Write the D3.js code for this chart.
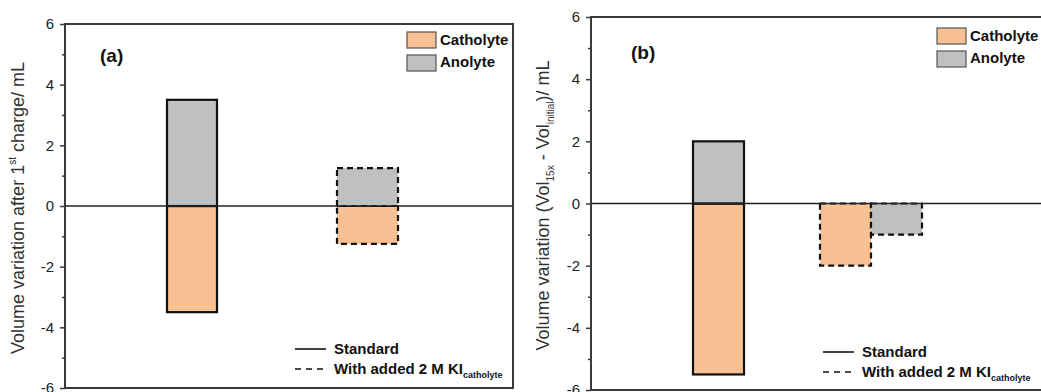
<!DOCTYPE html>
<html>
<head>
<meta charset="utf-8">
<script src="https://cdn.jsdelivr.net/npm/d3@7"></script>
<style>
  body { margin: 0; background: #fff; }
  svg text { font-family: "Liberation Sans", Arial, sans-serif; }
</style>
</head>
<body>
<svg id="chart" width="1041" height="392"></svg>
<script>
// data
var categories = ["Standard", "With added 2 M KI"];
var catholyteA = [-3.5, -1.25];
var anolyteA = [3.5, 1.25];
var catholyteB = [-5.5, -2];
var anolyteB = [2, -1];
var yTicks = [-6, -4, -2, 0, 2, 4, 6];

var colCath = "#f8c194", colAno = "#c0c0c0";
var svg = d3.select("#chart");

var panels = [
  { label: "(a)", left: 65, right: 513, top: 24, bottom: 388, cath: catholyteA, ano: anolyteA,
    centers: [192, 367.5], widths: [50, 61], side: [false, false],
    labelX: 100, labelY: 62, titleX: 24,
    legX: 407, legY: 32, lineLegX: 295, lineLegY: 349 },
  { label: "(b)", left: 591, right: 1060, top: 17, bottom: 390, cath: catholyteB, ano: anolyteB,
    centers: [718.5, 871], widths: [51, 51], side: [false, true],
    labelX: 631, labelY: 59, titleX: 549,
    legX: 937, legY: 28, lineLegX: 823, lineLegY: 352 }
];

panels.forEach(function(p, pi) {
  var g = svg.append("g");
  var y = d3.scaleLinear().domain([-6, 6]).range([p.bottom, p.top]);
  var x = d3.scalePoint().domain(categories).range(p.centers);

  // bars
  categories.forEach(function(c, i) {
    var w = p.widths[i];
    var dash = i === 1 ? "6,4" : null;
    var series = [{ v: p.cath[i], col: colCath, off: p.side[i] ? -w : -w / 2 },
                  { v: p.ano[i], col: colAno, off: p.side[i] ? 0 : -w / 2 }];
    series.forEach(function(s) {
      g.append("rect")
        .attr("x", x(c) + s.off)
        .attr("y", y(Math.max(0, s.v)))
        .attr("width", w)
        .attr("height", Math.abs(y(s.v) - y(0)))
        .attr("fill", s.col)
        .attr("stroke", "#111")
        .attr("stroke-width", 2.2)
        .attr("stroke-dasharray", dash);
    });
  });

  // zero line
  g.append("line")
    .attr("x1", p.left).attr("x2", p.right)
    .attr("y1", y(0)).attr("y2", y(0))
    .attr("stroke", "#222").attr("stroke-width", 1.5);

  // frame
  g.append("path")
    .attr("d", "M" + p.left + "," + p.bottom + "V" + p.top + "H" + p.right + "V" + p.bottom + "H" + p.left)
    .attr("fill", "none").attr("stroke", "#3a3a3a").attr("stroke-width", 2);

  // y axis
  var axis = g.append("g")
    .attr("transform", "translate(" + p.left + ",0)")
    .call(d3.axisLeft(y).tickValues(yTicks).tickSize(5).tickPadding(6).tickFormat(function(d) { return String(d); }));
  axis.select(".domain").remove();
  axis.selectAll("line").attr("stroke", "#3a3a3a").attr("stroke-width", 1.5);
  axis.selectAll("text").attr("font-size", 15).attr("fill", "#222");
  g.append("g")
    .attr("transform", "translate(" + p.left + ",0)")
    .call(d3.axisLeft(y).tickValues(d3.range(-5, 6, 2)).tickSize(3).tickFormat(""))
    .call(function(a) { a.select(".domain").remove(); a.selectAll("line").attr("stroke", "#3a3a3a").attr("stroke-width", 1.5); });

  // y title
  var yMid = (p.top + p.bottom) / 2;
  var t = g.append("text")
    .attr("transform", "translate(" + p.titleX + "," + (yMid + 2) + ") rotate(-90)")
    .attr("text-anchor", "middle").attr("font-size", 18).attr("fill", "#333");
  if (pi === 0) {
    t.append("tspan").text("Volume variation after 1");
    t.append("tspan").attr("font-size", 10).attr("dy", -8).text("st");
    t.append("tspan").attr("dy", 8).text(" charge/ mL");
  } else {
    t.append("tspan").text("Volume variation (Vol");
    t.append("tspan").attr("font-size", 10).attr("dy", 5).text("15x");
    t.append("tspan").attr("dy", -5).text(" - Vol");
    t.append("tspan").attr("font-size", 10).attr("dy", 5).text("initial");
    t.append("tspan").attr("dy", -5).text(")/ mL");
  }

  // panel label
  g.append("text").attr("x", p.labelX).attr("y", p.labelY)
    .attr("font-size", 19).attr("font-weight", "bold").attr("fill", "#111").text(p.label);

  // colour legend
  [["Catholyte", colCath], ["Anolyte", colAno]].forEach(function(d, i) {
    g.append("rect").attr("x", p.legX).attr("y", p.legY + i * 23)
      .attr("width", 29).attr("height", 16)
      .attr("fill", d[1]).attr("stroke", "#555").attr("stroke-width", 1.2);
    g.append("text").attr("x", p.legX + 33).attr("y", p.legY + 13 + i * 22)
      .attr("font-size", 15).attr("font-weight", "bold").attr("fill", "#111").text(d[0]);
  });

  // line style legend
  [null, "6,5"].forEach(function(dash, i) {
    var ly = p.lineLegY + i * 20;
    g.append("line").attr("x1", p.lineLegX).attr("x2", p.lineLegX + 31)
      .attr("y1", ly).attr("y2", ly)
      .attr("stroke", "#111").attr("stroke-width", 1.6).attr("stroke-dasharray", dash);
    var lt = g.append("text").attr("x", p.lineLegX + 39).attr("y", ly + 5)
      .attr("font-size", 15).attr("font-weight", "bold").attr("fill", "#111");
    if (i === 0) {
      lt.text("Standard");
    } else {
      lt.append("tspan").text("With added 2 M KI");
      lt.append("tspan").attr("font-size", 9).attr("dy", 4).text("catholyte");
    }
  });
});
</script>
</body>
</html>
